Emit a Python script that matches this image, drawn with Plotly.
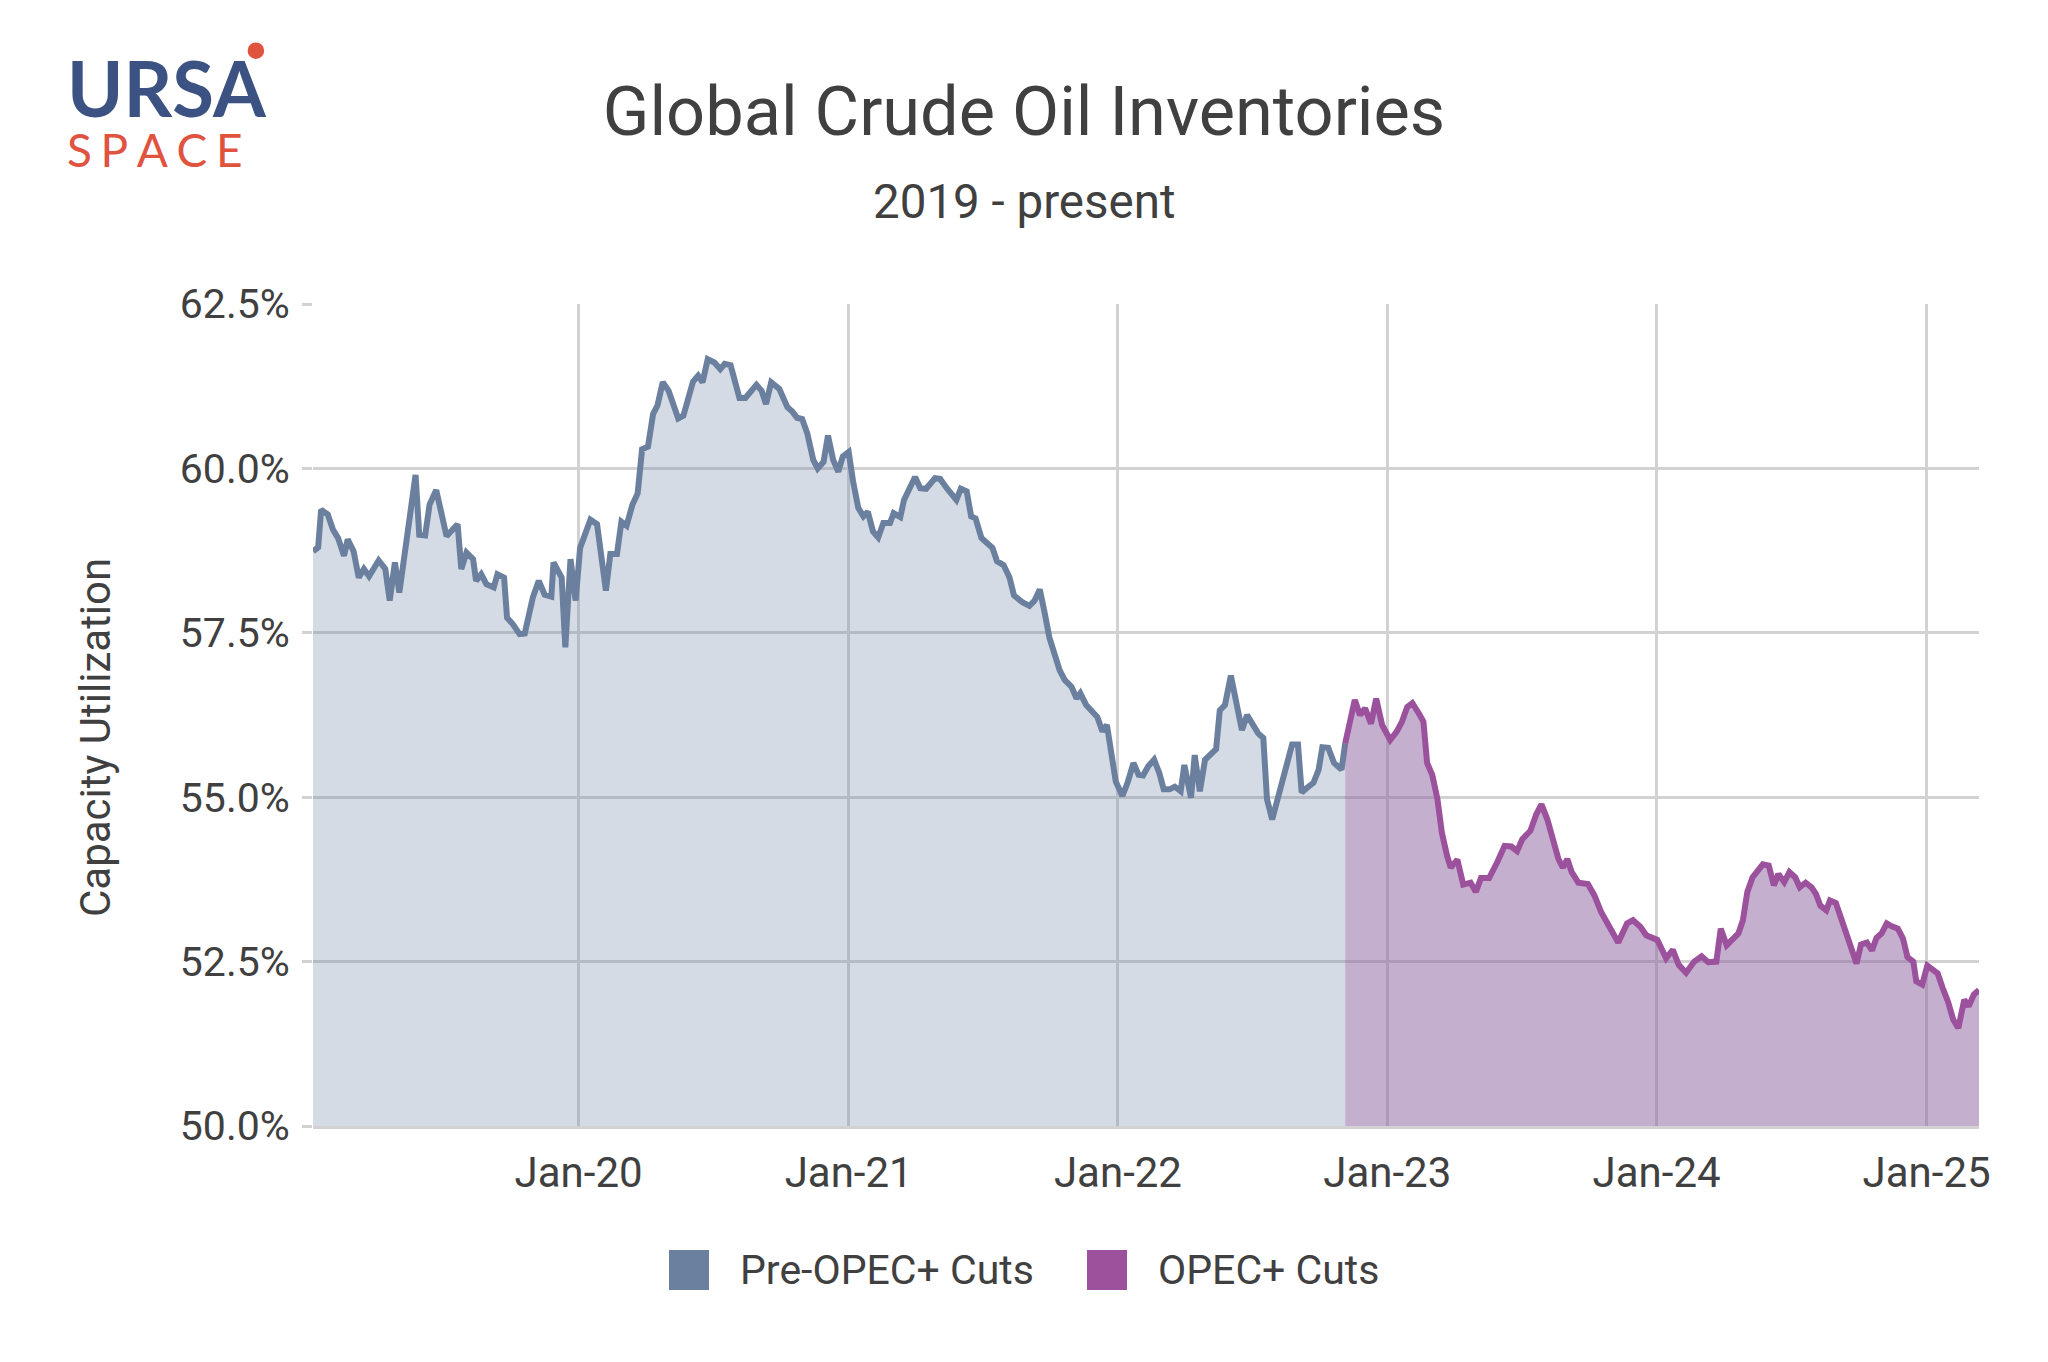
import plotly.graph_objects as go

# ---------------- data ----------------
pre_dates = [
    "2019-01-06", "2019-01-13", "2019-01-17", "2019-01-26", "2019-02-02", "2019-02-09",
    "2019-02-17", "2019-02-22", "2019-03-02", "2019-03-09", "2019-03-16", "2019-03-23",
    "2019-04-05", "2019-04-14", "2019-04-20", "2019-04-27", "2019-05-03", "2019-05-25",
    "2019-05-30", "2019-06-07", "2019-06-13", "2019-06-22", "2019-07-06", "2019-07-21",
    "2019-07-26", "2019-08-02", "2019-08-11", "2019-08-15", "2019-08-22", "2019-08-29",
    "2019-09-08", "2019-09-13", "2019-09-22", "2019-09-26", "2019-10-04", "2019-10-13",
    "2019-10-20", "2019-10-31", "2019-11-08", "2019-11-16", "2019-11-25", "2019-11-28",
    "2019-12-09", "2019-12-14", "2019-12-21", "2019-12-28",
    "2020-01-03", "2020-01-17", "2020-01-26", "2020-02-07", "2020-02-13", "2020-02-22",
    "2020-02-28", "2020-03-06", "2020-03-14", "2020-03-21", "2020-03-27", "2020-04-04",
    "2020-04-11", "2020-04-17", "2020-04-24", "2020-05-02", "2020-05-15", "2020-05-22",
    "2020-06-04", "2020-06-11", "2020-06-17", "2020-06-24", "2020-07-03", "2020-07-11",
    "2020-07-17", "2020-07-25", "2020-08-06", "2020-08-14", "2020-08-29", "2020-09-05",
    "2020-09-11", "2020-09-18", "2020-09-29", "2020-10-10", "2020-10-17", "2020-10-23",
    "2020-10-30", "2020-11-06", "2020-11-14", "2020-11-20", "2020-11-28", "2020-12-04",
    "2020-12-11", "2020-12-18", "2020-12-24",
    "2021-01-01", "2021-01-07", "2021-01-14", "2021-01-21", "2021-01-27", "2021-02-03",
    "2021-02-10", "2021-02-17", "2021-02-26", "2021-03-03", "2021-03-12", "2021-03-17",
    "2021-04-01", "2021-04-08", "2021-04-16", "2021-04-28", "2021-05-05", "2021-05-14",
    "2021-05-27", "2021-06-02", "2021-06-10", "2021-06-16", "2021-06-22", "2021-06-30",
    "2021-07-15", "2021-07-21", "2021-07-30", "2021-08-07", "2021-08-13", "2021-08-25",
    "2021-09-03", "2021-09-10", "2021-09-17", "2021-09-23", "2021-09-30", "2021-10-07",
    "2021-10-14", "2021-10-21", "2021-10-30", "2021-11-06", "2021-11-11", "2021-11-19",
    "2021-11-27", "2021-12-04", "2021-12-11", "2021-12-17", "2021-12-23", "2021-12-29",
    "2022-01-07", "2022-01-14", "2022-01-22", "2022-01-29", "2022-02-04", "2022-02-11",
    "2022-02-19", "2022-02-26", "2022-03-04", "2022-03-12", "2022-03-19", "2022-03-27",
    "2022-04-01", "2022-04-06", "2022-04-10", "2022-04-15", "2022-04-22", "2022-04-29",
    "2022-05-06", "2022-05-14", "2022-05-19", "2022-05-26", "2022-06-03", "2022-06-10",
    "2022-06-18", "2022-06-25", "2022-07-01", "2022-07-10", "2022-07-17", "2022-07-22",
    "2022-07-29", "2022-08-07", "2022-08-16", "2022-08-25", "2022-09-02", "2022-09-07",
    "2022-09-14", "2022-09-23", "2022-09-30", "2022-10-05", "2022-10-13", "2022-10-21",
    "2022-10-31", "2022-11-05",
]
pre_values = [
    58.74, 58.80, 59.37, 59.30, 59.07, 58.94,
    58.67, 58.92, 58.74, 58.34, 58.47, 58.36,
    58.60, 58.47, 57.99, 58.57, 58.11, 59.90,
    58.99, 58.98, 59.45, 59.67, 58.97, 59.15,
    58.47, 58.72, 58.62, 58.29, 58.39, 58.24,
    58.19, 58.39, 58.34, 57.73, 57.63, 57.48,
    57.49, 58.04, 58.29, 58.08, 58.05, 58.57,
    58.34, 57.28, 58.62, 57.99,
    58.79, 59.22, 59.15, 58.14, 58.70, 58.70,
    59.19, 59.13, 59.45, 59.62, 60.29, 60.33,
    60.83, 60.96, 61.31, 61.18, 60.76, 60.80,
    61.32, 61.41, 61.31, 61.66, 61.61, 61.51,
    61.59, 61.57, 61.07, 61.07, 61.27, 61.18,
    60.98, 61.31, 61.21, 60.93, 60.86, 60.77,
    60.75, 60.53, 60.13, 60.00, 60.10, 60.50,
    60.13, 59.95, 60.18,
    60.25, 59.80, 59.40, 59.27, 59.34, 59.04,
    58.95, 59.17, 59.17, 59.32, 59.26, 59.52,
    59.87, 59.70, 59.69, 59.85, 59.84, 59.70,
    59.52, 59.69, 59.65, 59.27, 59.24, 58.94,
    58.79, 58.59, 58.53, 58.34, 58.07, 57.96,
    57.91, 57.99, 58.16, 57.84, 57.43, 57.18,
    56.93, 56.78, 56.68, 56.50, 56.58, 56.40,
    56.30, 56.22, 56.00, 56.10, 55.67, 55.24,
    55.02, 55.22, 55.52, 55.34, 55.33, 55.47,
    55.57, 55.37, 55.12, 55.12, 55.16, 55.09,
    55.49, 55.17, 54.99, 55.64, 55.09, 55.57,
    55.64, 55.73, 56.32, 56.40, 56.85, 56.43,
    56.02, 56.25, 56.15, 55.97, 55.90, 54.97,
    54.66, 55.07, 55.47, 55.80, 55.80, 55.07,
    55.14, 55.22, 55.42, 55.76, 55.75, 55.52,
    55.42, 55.82,
]

cut_dates = [
    "2022-11-05", "2022-11-10", "2022-11-18", "2022-11-25", "2022-12-02", "2022-12-10",
    "2022-12-17", "2022-12-25",
    "2023-01-05", "2023-01-14", "2023-01-21", "2023-01-28", "2023-02-04", "2023-02-13",
    "2023-02-19", "2023-02-24", "2023-03-03", "2023-03-10", "2023-03-16", "2023-03-23",
    "2023-03-28", "2023-04-06", "2023-04-14", "2023-04-24", "2023-05-01", "2023-05-08",
    "2023-05-19", "2023-05-30", "2023-06-09", "2023-06-18", "2023-06-26", "2023-07-03",
    "2023-07-14", "2023-07-22", "2023-07-29", "2023-08-06", "2023-08-13", "2023-08-21",
    "2023-08-27", "2023-09-02", "2023-09-08", "2023-09-17", "2023-09-30", "2023-10-09",
    "2023-10-18", "2023-10-23", "2023-10-30", "2023-11-10", "2023-11-22", "2023-11-30",
    "2023-12-10", "2023-12-18",
    "2024-01-02", "2024-01-14", "2024-01-23", "2024-01-31", "2024-02-10", "2024-02-21",
    "2024-03-02", "2024-03-11", "2024-03-22", "2024-03-28", "2024-04-05", "2024-04-13",
    "2024-04-21", "2024-04-27", "2024-05-03", "2024-05-10", "2024-05-18", "2024-05-24",
    "2024-06-01", "2024-06-08", "2024-06-14", "2024-06-22", "2024-06-29", "2024-07-07",
    "2024-07-13", "2024-07-21", "2024-07-29", "2024-08-04", "2024-08-10", "2024-08-18",
    "2024-08-23", "2024-08-31", "2024-09-08", "2024-09-16", "2024-09-22", "2024-09-28",
    "2024-10-04", "2024-10-12", "2024-10-19", "2024-10-25", "2024-11-01", "2024-11-08",
    "2024-11-14", "2024-11-23", "2024-11-30", "2024-12-06", "2024-12-14", "2024-12-18",
    "2024-12-26",
    "2025-01-02", "2025-01-10", "2025-01-16", "2025-01-23", "2025-01-30", "2025-02-06",
    "2025-02-13", "2025-02-21", "2025-02-27", "2025-03-06", "2025-03-13",
]
cut_values = [
    55.82, 56.07, 56.48, 56.25, 56.35, 56.12,
    56.50, 56.10,
    55.87, 56.00, 56.15, 56.37, 56.43, 56.27,
    56.15, 55.52, 55.34, 54.97, 54.46, 54.11,
    53.93, 54.05, 53.67, 53.70, 53.56, 53.77,
    53.77, 54.01, 54.26, 54.25, 54.18, 54.36,
    54.49, 54.74, 54.89, 54.66, 54.36, 54.06,
    53.93, 54.06, 53.86, 53.70, 53.68, 53.50,
    53.25, 53.15, 52.98, 52.79, 53.08, 53.13,
    53.03, 52.90,
    52.83, 52.55, 52.68, 52.45, 52.33, 52.50,
    52.58, 52.49, 52.50, 53.00, 52.75, 52.83,
    52.93, 53.13, 53.56, 53.78, 53.91, 53.98,
    53.96, 53.66, 53.83, 53.71, 53.86, 53.78,
    53.63, 53.70, 53.63, 53.53, 53.35, 53.28,
    53.43, 53.39, 53.13, 52.85, 52.65, 52.47,
    52.76, 52.79, 52.67, 52.86, 52.93, 53.08,
    53.04, 53.00, 52.85, 52.57, 52.50, 52.20,
    52.15,
    52.44, 52.37, 52.32, 52.09, 51.89, 51.62,
    51.49, 51.92, 51.82, 52.00, 52.07,
]

series_names = ["Pre-OPEC+ Cuts", "OPEC+ Cuts"]
year_ticks = ["2020-01-01", "2021-01-01", "2022-01-01", "2023-01-01", "2024-01-01", "2025-01-01"]
year_labels = ["Jan-20", "Jan-21", "Jan-22", "Jan-23", "Jan-24", "Jan-25"]

# ---------------- styling ----------------
BLUE = "#6b809f"
BLUE_FILL = "rgba(112,135,168,0.30)"
PURPLE = "#9b519c"
PURPLE_FILL = "rgba(137,95,159,0.50)"
TEXT = "#404040"
GRID = "#d2d2d2"
FONT = "Roboto"
LOGO_BLUE = "#3b5282"
LOGO_RED = "#e0533f"

fig = go.Figure()
fig.add_trace(go.Scatter(
    x=pre_dates, y=pre_values, name=series_names[0], mode="lines",
    line=dict(color=BLUE, width=6), fill="tozeroy", fillcolor=BLUE_FILL,
    showlegend=False,
))
fig.add_trace(go.Scatter(
    x=cut_dates, y=cut_values, name=series_names[1], mode="lines",
    line=dict(color=PURPLE, width=6), fill="tozeroy", fillcolor=PURPLE_FILL,
    showlegend=False,
))

# plot-area geometry (pixels) used to place decorations in paper coordinates
L, R, T, B = 313, 1979, 304, 1126
W, H = R - L, B - T


def px(x):
    return (x - L) / W


def py(y):
    return (B - y) / H


sp = "\u2009\u200a"
logo_text = (
    f'<span style="font-size:76px;color:{LOGO_BLUE}"><b>URSA</b></span><br>'
    f'<span style="font-size:46px;color:{LOGO_RED}">{sp.join("SPACE")}</span>'
)

annotations = [
    dict(text="2019 - present", x=px(1024), y=py(202), xref="paper", yref="paper",
         xanchor="center", yanchor="middle", showarrow=False,
         font=dict(family=FONT, size=47.5, color=TEXT)),
    dict(text=logo_text, x=px(65), y=py(110), xref="paper", yref="paper",
         xanchor="left", yanchor="middle", align="left", showarrow=False,
         font=dict(family="Lato", size=38.5, color=LOGO_BLUE)),
    dict(text="Capacity Utilization", x=px(95), y=py(738), xref="paper", yref="paper",
         xanchor="center", yanchor="middle", textangle=-90, showarrow=False,
         font=dict(family=FONT, size=42, color=TEXT)),
]

# legend (square swatches like the reference)
legend_items = [(669, 738, BLUE, series_names[0]), (1087, 1156, PURPLE, series_names[1])]
shapes = [
    dict(type="circle", xref="paper", yref="paper", x0=px(247.6), x1=px(264.2),
         y0=py(59), y1=py(42.4), fillcolor=LOGO_RED, line=dict(width=0)),
]
for sx, tx, col, name in legend_items:
    shapes.append(dict(type="rect", xref="paper", yref="paper", x0=px(sx), x1=px(sx + 40),
                       y0=py(1290), y1=py(1250), fillcolor=col, line=dict(width=0), layer="above"))
    annotations.append(dict(text=name, x=px(tx), y=py(1270), xref="paper", yref="paper",
                            xanchor="left", yanchor="middle", showarrow=False,
                            font=dict(family=FONT, size=41, color=TEXT)))

fig.update_layout(
    width=2048, height=1362,
    margin=dict(l=L, r=2048 - R, t=T, b=1362 - B, autoexpand=False),
    paper_bgcolor="white", plot_bgcolor="white",
    font=dict(family=FONT, color=TEXT),
    title=dict(text="Global Crude Oil Inventories", x=0.5, xref="container", xanchor="center",
               y=1 - 111 / 1362, yref="container", yanchor="middle",
               font=dict(family=FONT, size=68.5, color=TEXT)),
    showlegend=False,
    annotations=annotations,
    shapes=shapes,
)

fig.update_xaxes(
    type="date", range=[pre_dates[0], cut_dates[-1]],
    tickvals=year_ticks, ticktext=year_labels,
    showgrid=True, gridcolor=GRID, gridwidth=2.5,
    showline=True, linecolor=GRID, linewidth=2.5,
    ticks="", ticklabelstandoff=8,
    tickfont=dict(family=FONT, size=42, color=TEXT),
    zeroline=False,
)
fig.update_yaxes(
    range=[50, 62.5], dtick=2.5, tick0=50, tickformat=".1f", ticksuffix="%",
    showgrid=True, gridcolor=GRID, gridwidth=2.5,
    ticks="outside", ticklen=10, tickcolor=GRID, tickwidth=2.5,
    ticklabelstandoff=4,
    tickfont=dict(family=FONT, size=41, color=TEXT),
    zeroline=False, showline=False,
)

fig.write_html("out.html")
